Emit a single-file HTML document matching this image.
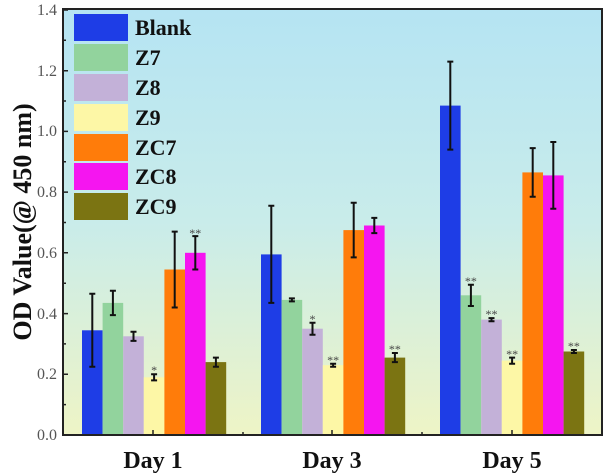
<!DOCTYPE html>
<html><head><style>body{margin:0;background:#fff}svg{display:block}</style></head>
<body>
<svg width="611" height="476" xmlns="http://www.w3.org/2000/svg" font-family="Liberation Serif, serif">
<defs><linearGradient id="bg" x1="0" y1="0" x2="0" y2="1">
<stop offset="0" stop-color="#b5e4f3"/><stop offset="0.5" stop-color="#c9ecea"/><stop offset="1" stop-color="#eef4c6"/></linearGradient></defs>
<rect x="63" y="9" width="539" height="426" fill="url(#bg)"/>
<g>
<rect x="82" y="330.3" width="20.6" height="104.7" fill="#1e3de6"/>
<rect x="102.6" y="302.9" width="20.6" height="132.1" fill="#92d39d"/>
<rect x="123.2" y="336.3" width="20.6" height="98.7" fill="#c3b1d8"/>
<rect x="143.8" y="377.3" width="20.6" height="57.7" fill="#fdf7a6"/>
<rect x="164.4" y="269.5" width="20.6" height="165.5" fill="#ff7c0a"/>
<rect x="185" y="252.8" width="20.6" height="182.2" fill="#f515f0"/>
<rect x="205.6" y="362.1" width="20.6" height="72.9" fill="#7b7412"/>
<rect x="261" y="254.4" width="20.6" height="180.6" fill="#1e3de6"/>
<rect x="281.6" y="299.9" width="20.6" height="135.1" fill="#92d39d"/>
<rect x="302.2" y="328.7" width="20.6" height="106.3" fill="#c3b1d8"/>
<rect x="322.8" y="365.2" width="20.6" height="69.8" fill="#fdf7a6"/>
<rect x="343.4" y="230.1" width="20.6" height="204.9" fill="#ff7c0a"/>
<rect x="364" y="225.5" width="20.6" height="209.5" fill="#f515f0"/>
<rect x="384.6" y="357.6" width="20.6" height="77.4" fill="#7b7412"/>
<rect x="440" y="105.6" width="20.6" height="329.4" fill="#1e3de6"/>
<rect x="460.6" y="295.3" width="20.6" height="139.7" fill="#92d39d"/>
<rect x="481.2" y="319.6" width="20.6" height="115.4" fill="#c3b1d8"/>
<rect x="501.8" y="360.6" width="20.6" height="74.4" fill="#fdf7a6"/>
<rect x="522.4" y="172.4" width="20.6" height="262.6" fill="#ff7c0a"/>
<rect x="543" y="175.4" width="20.6" height="259.6" fill="#f515f0"/>
<rect x="563.6" y="351.5" width="20.6" height="83.5" fill="#7b7412"/>
</g>
<path stroke="#111" stroke-width="2" fill="none" d="
M92.3 293.8V366.7M89.3 293.8h6M89.3 366.7h6
M112.9 290.8V315.1M109.9 290.8h6M109.9 315.1h6
M133.5 331.8V340.9M130.5 331.8h6M130.5 340.9h6
M154.1 374.3V380.4M151.1 374.3h6M151.1 380.4h6
M174.7 231.6V307.5M171.7 231.6h6M171.7 307.5h6
M195.3 236.1V269.5M192.3 236.1h6M192.3 269.5h6
M215.9 357.6V366.7M212.9 357.6h6M212.9 366.7h6
M271.3 205.8V302.9M268.3 205.8h6M268.3 302.9h6
M291.9 298.4V301.4M288.9 298.4h6M288.9 301.4h6
M312.5 322.7V334.8M309.5 322.7h6M309.5 334.8h6
M333.1 363.7V366.7M330.1 363.7h6M330.1 366.7h6
M353.7 202.7V257.4M350.7 202.7h6M350.7 257.4h6
M374.3 217.9V233.1M371.3 217.9h6M371.3 233.1h6
M394.9 353V362.1M391.9 353h6M391.9 362.1h6
M450.3 61.6V149.6M447.3 61.6h6M447.3 149.6h6
M470.9 284.7V306M467.9 284.7h6M467.9 306h6
M491.5 318.1V321.2M488.5 318.1h6M488.5 321.2h6
M512.1 357.6V363.7M509.1 357.6h6M509.1 363.7h6
M532.7 148.1V196.7M529.7 148.1h6M529.7 196.7h6
M553.3 142V208.8M550.3 142h6M550.3 208.8h6
M573.9 350V353M570.9 350h6M570.9 353h6"/>
<g font-size="12" fill="#444" text-anchor="middle">
<text x="154.1" y="374">*</text><text x="195.3" y="237">**</text>
<text x="312.5" y="323">*</text><text x="333.1" y="364">**</text><text x="394.9" y="353">**</text>
<text x="470.9" y="285">**</text><text x="491.5" y="318">**</text><text x="512.1" y="358">**</text><text x="573.9" y="350">**</text>
</g>
<path stroke="#222" stroke-width="1.5" d="M63 435h5M63 404.6h3M63 374.3h5M63 343.9h3M63 313.6h5M63 283.2h3M63 252.8h5M63 222.5h3M63 192.1h5M63 161.8h3M63 131.4h5M63 101h3M63 70.7h5M63 40.3h3M63 10h5M153 435v-5M332 435v-5M512 435v-5M243 435v-3M422 435v-3"/>
<rect x="63" y="9" width="539" height="426" fill="none" stroke="#222" stroke-width="2"/>
<g font-size="16" fill="#555" text-anchor="end">
<text x="57" y="440">0.0</text><text x="57" y="379">0.2</text><text x="57" y="319">0.4</text>
<text x="57" y="258">0.6</text><text x="57" y="197">0.8</text><text x="57" y="136">1.0</text>
<text x="57" y="76">1.2</text><text x="57" y="15">1.4</text></g>
<g font-size="24" font-weight="bold" fill="#111" text-anchor="middle">
<text x="153" y="468">Day 1</text><text x="332" y="468">Day 3</text><text x="512" y="468">Day 5</text></g>
<text transform="translate(31,222) rotate(-90)" font-size="26" font-weight="bold" text-anchor="middle" fill="#111">OD Value(@ 450 nm)</text>
<g font-size="22" font-weight="bold" fill="#111">
<rect x="74" y="14" width="54" height="27" fill="#1e3de6"/><text x="135" y="35">Blank</text>
<rect x="74" y="44" width="54" height="27" fill="#92d39d"/><text x="135" y="65">Z7</text>
<rect x="74" y="74" width="54" height="27" fill="#c3b1d8"/><text x="135" y="95">Z8</text>
<rect x="74" y="104" width="54" height="27" fill="#fdf7a6"/><text x="135" y="125">Z9</text>
<rect x="74" y="134" width="54" height="27" fill="#ff7c0a"/><text x="135" y="155">ZC7</text>
<rect x="74" y="163" width="54" height="27" fill="#f515f0"/><text x="135" y="184">ZC8</text>
<rect x="74" y="193" width="54" height="27" fill="#7b7412"/><text x="135" y="214">ZC9</text>
</g>
</svg>
</body></html>
